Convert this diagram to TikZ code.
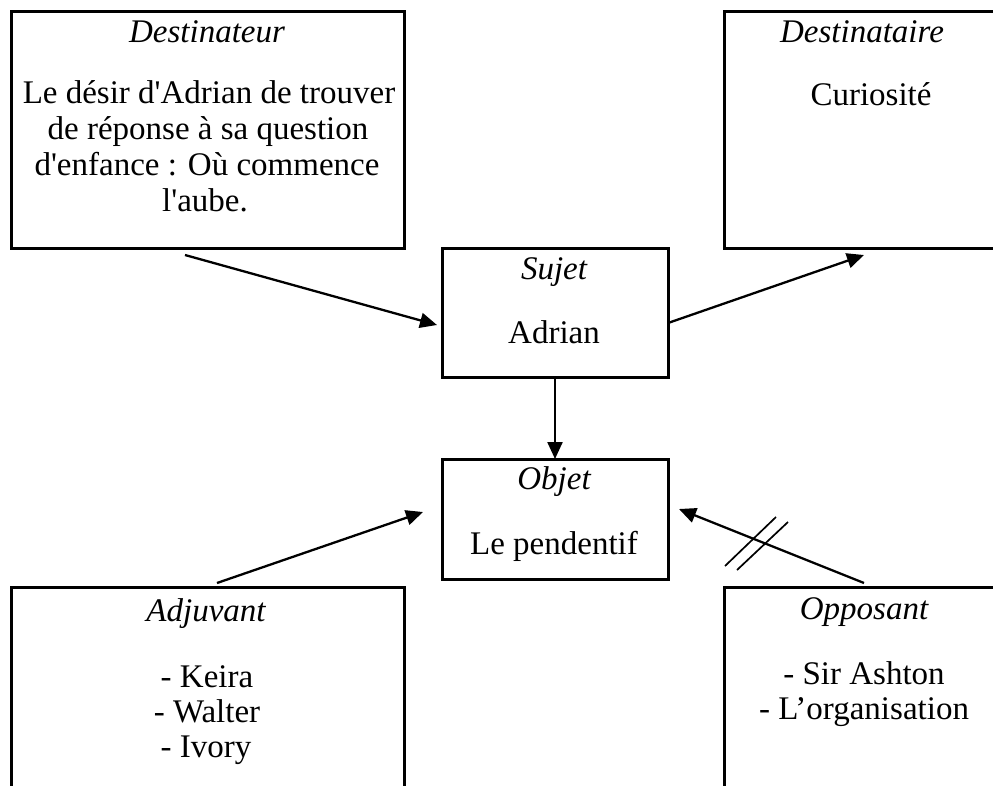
\documentclass[tikz,border=0pt]{standalone}
\usepackage{fontspec}
\newfontfamily\tnr{Liberation Serif}
\usetikzlibrary{arrows.meta,calc}
\tikzset{
  box/.style={draw, line width=3pt, inner sep=0pt, outer sep=0pt, anchor=north west},
  lbl/.style={inner sep=0pt, anchor=base, font=\tnr\fontsize{33}{36}\selectfont},
  ttl/.style={lbl, font=\tnr\itshape\fontsize{33}{36}\selectfont},
  arr/.style={line width=2.3pt, -{Triangle[length=17pt,width=15pt]}},
  slash/.style={line width=1.7pt}
}
\begin{document}
\begin{tikzpicture}[x=1pt,y=-1pt]
\clip (0,0) rectangle (993,785);
\fill[white] (0,0) rectangle (993,785);
% boxes
\node[box, minimum width=393pt, minimum height=237pt] (dest) at (11,11) {};
\node[box, minimum width=280pt, minimum height=237pt] (desti) at (724,11) {};
\node[box, minimum width=226pt, minimum height=129pt] (sujet) at (442,248) {};
\node[box, minimum width=226pt, minimum height=120pt] (objet) at (442,459) {};
\node[box, minimum width=393pt, minimum height=250pt] (adj) at (11,587) {};
\node[box, minimum width=280pt, minimum height=250pt] (opp) at (724,587) {};
% texts
\node[ttl] (t1) at (207,42) {Destinateur};
\node[lbl] (d1) at (209,103) {Le désir d'Adrian de trouver};
\node[lbl] (d2) at (208,139) {de réponse à sa question};
\node[lbl] (d3) at (207,175) {d'enfance : Où commence};
\node[lbl] (d4) at (205,211) {l'aube.};
\node[ttl] (t2) at (862,42) {Destinataire};
\node[lbl] (c1) at (871,105) {Curiosité};
\node[ttl] (t3) at (554,279) {Sujet};
\node[lbl] (s1) at (554,343) {Adrian};
\node[ttl] (t4) at (554,489) {Objet};
\node[lbl] (o1) at (554,554) {Le pendentif};
\node[ttl] (t5) at (206,621) {Adjuvant};
\node[lbl] (j1) at (207,687) {- Keira};
\node[lbl] (j2) at (207,722) {- Walter};
\node[lbl] (j3) at (206,757) {- Ivory};
\node[ttl] (t6) at (864,619) {Opposant};
\node[lbl] (p1) at (864,684) {- Sir Ashton};
\node[lbl] (p2) at (864,719) {- L’organisation};
% connectors
\draw[arr] ($(dest.south west)+(174,7)$) -- ($(sujet.north west)+(-5,77)$);
\draw[arr] ($(sujet.north east)+(0,75)$) -- ($(desti.south west)+(140,7)$);
\draw[arr] (sujet.south) -- (objet.north);
\draw[arr] ($(adj.north west)+(206,-4)$) -- ($(objet.north west)+(-19,53)$);
\draw[arr] ($(opp.north west)+(140,-4)$) -- ($(objet.north east)+(11,50)$);
% double slash on opposant connector
\draw[slash] (725,566) -- (776,517);
\draw[slash] (737,570) -- (788,522);
\end{tikzpicture}
\end{document}
